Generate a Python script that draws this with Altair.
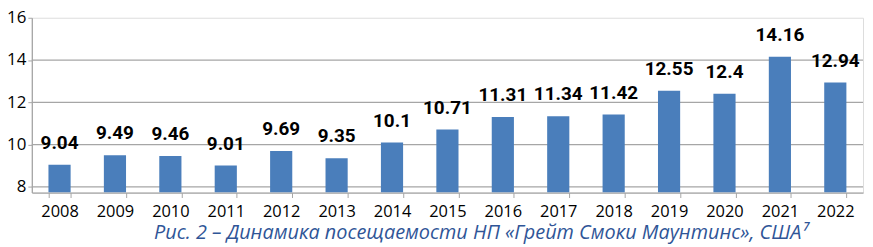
import altair as alt
import pandas as pd

years = ["2008", "2009", "2010", "2011", "2012", "2013", "2014", "2015",
         "2016", "2017", "2018", "2019", "2020", "2021", "2022"]
visits = [9.04, 9.49, 9.46, 9.01, 9.69, 9.35, 10.1, 10.71,
          11.31, 11.34, 11.42, 12.55, 12.4, 14.16, 12.94]
grid_values = [8, 10, 12, 14]
y_ticks = [8, 10, 12, 14, 16]
caption = "Рис. 2 – Динамика посещаемости НП «Грейт Смоки Маунтинс», США⁷"

df = pd.DataFrame({"year": years, "value": visits})
grid_df = pd.DataFrame({"g": grid_values})

y_scale = alt.Scale(domain=[7.73, 16], zero=False, nice=False)
x_scale = alt.Scale(paddingInner=0.6, paddingOuter=0.3)

grid = alt.Chart(grid_df).mark_rule(color="#a6a6a6", strokeWidth=1.3).encode(
    y=alt.Y("g:Q", scale=y_scale)
)

bars = alt.Chart(df).mark_bar(color="#4a7ebb", clip=True).encode(
    x=alt.X("year:N", scale=x_scale, sort=years,
            axis=alt.Axis(title=None, labelAngle=0, labelFont="Open Sans",
                          labelFontSize=16.5, labelColor="#000000",
                          domainColor="#a6a6a6", domainWidth=1.3,
                          tickColor="#a6a6a6", tickSize=5, tickBand="extent",
                          labelPadding=6)),
    y=alt.Y("value:Q", scale=y_scale,
            axis=alt.Axis(title=None, values=y_ticks, grid=False,
                          labelFont="Open Sans", labelFontSize=17,
                          labelColor="#000000", domainColor="#a6a6a6",
                          domainWidth=1.3, tickColor="#a6a6a6", tickSize=4,
                          labelPadding=2)),
    y2=alt.Y2(datum=7.73),
)

labels = alt.Chart(df).mark_text(
    font="Roboto", fontWeight="bold", fontSize=19,
    baseline="bottom", dy=-12, color="#000000"
).encode(
    x=alt.X("year:N", scale=x_scale, sort=years),
    y=alt.Y("value:Q", scale=y_scale),
    text=alt.Text("value:Q"),
)

chart = alt.layer(grid, bars, labels).properties(
    width=837,
    height=176,
    autosize=alt.AutoSizeParams(type="none"),
    padding={"left": 24, "top": 9, "right": 2, "bottom": 53},
    title=alt.TitleParams(caption, orient="bottom", font="Open Sans",
                          fontStyle="italic", fontWeight="normal",
                          fontSize=20, color="#2f5597", offset=3, dx=34),
).configure_view(stroke=None).configure(background="#ffffff")

chart.save("out.html", embed_options={"renderer": "svg", "actions": False})
